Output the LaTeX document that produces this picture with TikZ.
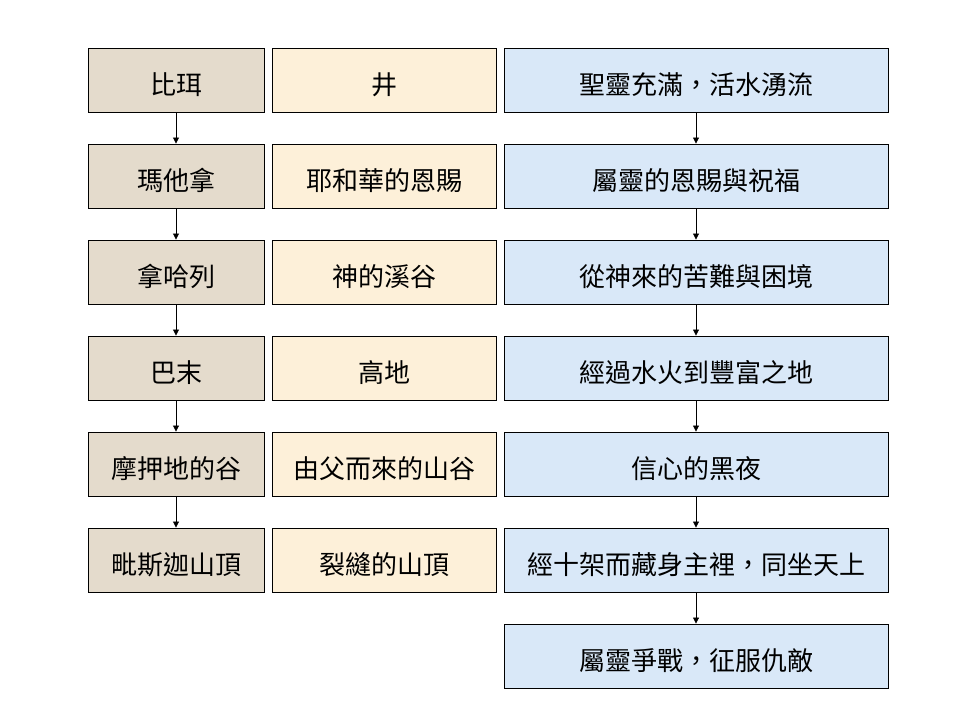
\documentclass[tikz,border=0pt]{standalone}
\usepackage{fontspec}
\setmainfont{Noto Sans CJK TC}
\usetikzlibrary{arrows.meta}
\definecolor{tanc}{HTML}{E4DBCC}
\definecolor{creamc}{HTML}{FDF0D9}
\definecolor{bluec}{HTML}{D9E8F8}
\tikzset{
  box/.style={draw=black, line width=0.9pt, minimum height=64pt, inner sep=0pt, text height=30pt, text depth=1pt, font=\fontsize{26}{30}\selectfont},
  c1/.style={box, fill=tanc, minimum width=176pt},
  c2/.style={box, fill=creamc, minimum width=224pt},
  c3/.style={box, fill=bluec, minimum width=384pt},
  arr/.style={draw=black, line width=0.8pt, -{Triangle[length=6pt,width=6pt]}}
}
\begin{document}
\begin{tikzpicture}[x=1pt,y=-1pt]
\useasboundingbox (0,0) rectangle (960,720);
% column 1
\node[c1] (a1) at (176,80) {比珥};
\node[c1] (a2) at (176,176) {瑪他拿};
\node[c1] (a3) at (176,272) {拿哈列};
\node[c1] (a4) at (176,368) {巴末};
\node[c1] (a5) at (176,464) {摩押地的谷};
\node[c1] (a6) at (176,560) {毗斯迦山頂};
% column 2
\node[c2] (b1) at (384.5,80) {井};
\node[c2] (b2) at (384.5,176) {耶和華的恩賜};
\node[c2] (b3) at (384.5,272) {神的溪谷};
\node[c2] (b4) at (384.5,368) {高地};
\node[c2] (b5) at (384.5,464) {由父而來的山谷};
\node[c2] (b6) at (384.5,560) {裂縫的山頂};
% column 3
\node[c3] (c1) at (696,80) {聖靈充滿，活水湧流};
\node[c3] (c2) at (696,176) {屬靈的恩賜與祝福};
\node[c3] (c3) at (696,272) {從神來的苦難與困境};
\node[c3] (c4) at (696,368) {經過水火到豐富之地};
\node[c3] (c5) at (696,464) {信心的黑夜};
\node[c3] (c6) at (696,560) {經十架而藏身主裡，同坐天上};
\node[c3] (c7) at (696,656) {屬靈爭戰，征服仇敵};
% arrows
\foreach \i/\j in {1/2,2/3,3/4,4/5,5/6}{
  \draw[arr] (a\i.south) -- (a\j.north);
}
\foreach \i/\j in {1/2,2/3,3/4,4/5,5/6,6/7}{
  \draw[arr] (c\i.south) -- (c\j.north);
}
\end{tikzpicture}
\end{document}
